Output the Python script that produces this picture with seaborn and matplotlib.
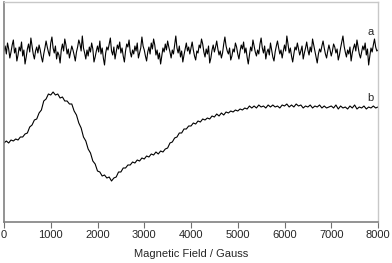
import matplotlib
matplotlib.use("Agg")
import matplotlib.pyplot as plt
import seaborn as sns
import pandas as pd

# Trace a: field 0..8000 G, step 25 G
field_a = list(range(0, 8001, 25))
signal_a = [
    171,176,168,179,173,164,170,177,182,169,174,161,167,175,171,180,166,172,158,165,
    173,178,170,184,176,168,163,171,175,169,177,172,165,160,168,174,181,175,170,166,
    179,185,174,169,176,163,170,167,159,172,178,171,183,177,168,173,164,170,176,172,
    167,161,170,175,182,178,171,186,174,169,163,172,166,175,170,179,173,160,165,171,
    176,170,181,168,174,164,157,169,175,172,178,184,171,167,175,163,170,177,173,180,
    169,174,166,160,171,178,175,182,170,165,172,168,176,171,179,164,169,174,185,176,
    172,166,161,170,175,168,179,173,183,177,167,172,163,169,158,166,174,170,178,172,
    181,175,170,164,172,168,177,186,174,169,176,165,171,160,167,173,179,171,175,168,
    174,180,172,166,162,171,169,177,174,183,178,170,165,173,168,176,159,164,172,177,
    170,175,181,173,167,171,164,169,178,185,176,171,168,174,162,166,173,170,179,175,
    168,163,171,177,173,180,169,174,165,158,167,175,171,182,176,170,166,172,168,178,
    184,174,169,176,163,170,173,167,179,172,165,161,170,176,181,174,168,172,164,171,
    177,171,186,178,169,174,166,160,168,175,172,179,173,167,171,176,163,169,174,180,
    172,167,175,170,183,177,171,165,159,168,173,170,176,181,174,168,164,171,177,172,
    166,171,178,175,169,173,162,167,174,180,186,176,170,165,172,168,175,161,169,174,
    178,171,182,175,168,164,170,176,172,179,167,173,157,166,174,170,177,183,175,171,
    172,
]

# Trace b: field 0..8000 G, step 50 G
field_b = list(range(0, 8001, 50))
signal_b = [
    79,81,79,82,81,83,82,85,85,88,89,95,97,102,103,109,112,121,123,128,
    127,130,127,128,124,125,121,121,118,118,111,107,99,94,85,81,73,69,61,58,
    51,50,46,47,44,45,41,44,45,50,50,54,54,57,57,60,59,62,61,64,
    63,66,65,68,67,70,68,71,70,73,74,79,80,84,85,89,89,93,93,96,
    96,99,98,101,100,103,102,104,103,106,105,108,106,109,107,110,109,111,110,112,
    111,113,112,114,113,116,114,116,114,117,115,116,114,117,115,117,115,116,114,117,
    116,118,115,117,115,118,116,117,114,116,115,117,114,116,115,117,114,116,114,115,
    116,114,117,113,116,114,115,113,116,114,117,113,115,114,116,113,115,114,116,114,
    115,
]

trace_labels = ["a", "b"]
x_ticks = [0, 1000, 2000, 3000, 4000, 5000, 6000, 7000, 8000]

df = pd.concat([
    pd.DataFrame({"field": field_a, "signal": signal_a, "trace": "a"}),
    pd.DataFrame({"field": field_b, "signal": signal_b, "trace": "b"}),
])

sns.set_theme(style="white")
plt.rcParams["font.family"] = ["Liberation Sans", "DejaVu Sans"]

fig = plt.figure(figsize=(3.92, 2.63), dpi=100)
ax = fig.add_axes([4/392, 41/263, 374/392, 220/263])

sns.lineplot(data=df, x="field", y="signal", units="trace", estimator=None,
             color="black", linewidth=0.8, ax=ax, legend=False)

ax.set_xlim(0, 8000)
ax.set_ylim(0, 220)
ax.set_xticks(x_ticks)
ax.set_xticklabels([str(t) for t in x_ticks], fontsize=8)
ax.set_yticks([])
ax.set_ylabel("")
ax.set_xlabel("Magnetic Field / Gauss", fontsize=8, labelpad=7)

ax.tick_params(axis="x", direction="out", length=4, width=0.8, color="#707070",
               bottom=True, pad=1.5)

for side in ["left", "bottom"]:
    ax.spines[side].set_color("#808080")
    ax.spines[side].set_linewidth(1.2)
for side in ["top", "right"]:
    ax.spines[side].set_color("#c8c8c8")
    ax.spines[side].set_linewidth(1.0)

ax.text(7840, 190, trace_labels[0], fontsize=8, ha="center", va="center")
ax.text(7840, 124, trace_labels[1], fontsize=8, ha="center", va="center")

fig.savefig("out.png", dpi=100)
